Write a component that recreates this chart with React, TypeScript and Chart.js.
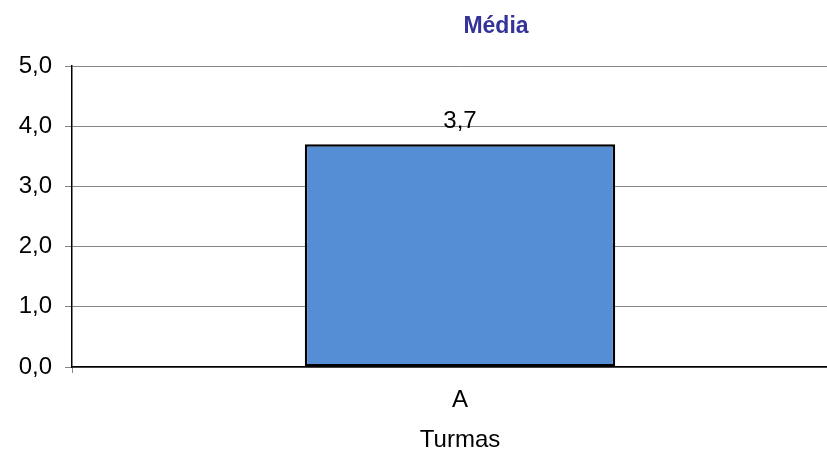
import React, { useEffect, useRef } from "react";
import { Chart, registerables } from "chart.js";

Chart.register(...registerables);

const chartTitle = "Média";
const xAxisTitle = "Turmas";
const categories = ["A"];
const values = [3.7];
const yMin = 0;
const yMax = 5;
const yStep = 1;

const FONT = "'Liberation Sans', Arial, sans-serif";
const fmt = (v: number) => v.toFixed(1).replace(".", ",");

const overlayPlugin = {
  id: "overlay",
  afterDatasetsDraw(chart: any) {
    const ctx = chart.ctx;
    const meta = chart.getDatasetMeta(0);
    ctx.save();
    ctx.font = `24px ${FONT}`;
    ctx.fillStyle = "#000000";
    ctx.textAlign = "center";
    ctx.textBaseline = "alphabetic";
    meta.data.forEach((bar: any, i: number) => {
      ctx.fillText(fmt(values[i]), bar.x, bar.y - 16);
    });
    ctx.restore();
  },
  afterDraw(chart: any) {
    const ctx = chart.ctx;
    const area = chart.chartArea;
    ctx.save();
    ctx.font = `bold 23px ${FONT}`;
    ctx.fillStyle = "#333399";
    ctx.textAlign = "center";
    ctx.textBaseline = "alphabetic";
    ctx.fillText(chartTitle, (area.left + area.right) / 2 + 36, 33);
    ctx.restore();
  },
};

export default function App() {
  const ref = useRef<HTMLCanvasElement | null>(null);

  useEffect(() => {
    if (!ref.current) return;
    const chart = new Chart(ref.current, {
      type: "bar",
      data: {
        labels: categories,
        datasets: [
          {
            data: values,
            backgroundColor: "#558ed5",
            borderColor: "#000000",
            borderWidth: 2.5,
            borderSkipped: false,
            barPercentage: 0.4,
            categoryPercentage: 1,
          },
        ],
      },
      plugins: [overlayPlugin],
      options: {
        responsive: false,
        animation: false,
        devicePixelRatio: 1,
        layout: { padding: { top: 66, left: 0, right: 0, bottom: 0 } },
        plugins: {
          legend: { display: false },
          title: { display: false },
          tooltip: { enabled: false },
        },
        scales: {
          x: {
            offset: true,
            afterFit: (scale: any) => {
              scale.height = 84;
            },
            grid: {
              display: true,
              drawOnChartArea: false,
              drawTicks: true,
              tickLength: 6,
              color: "#8a8a8a",
              offset: true,
            },
            border: { display: true, color: "#000000", width: 1.5 },
            ticks: {
              color: "#000000",
              padding: 13,
              font: { family: FONT, size: 24 },
            },
            title: {
              display: true,
              text: xAxisTitle,
              color: "#000000",
              padding: { top: 0, bottom: 0 },
              font: { family: FONT, size: 24, lineHeight: 0.9 },
            },
          },
          y: {
            min: yMin,
            max: yMax,
            afterFit: (scale: any) => {
              scale.width = 72;
            },
            grid: {
              color: "#868686",
              lineWidth: 1,
              tickLength: 7,
            },
            border: { display: true, color: "#000000", width: 1.5 },
            ticks: {
              stepSize: yStep,
              color: "#000000",
              padding: 13,
              font: { family: FONT, size: 24 },
              callback: (v: any) => fmt(Number(v)),
            },
          },
        },
      },
    });
    return () => chart.destroy();
  }, []);

  return (
    <div
      style={{
        position: "fixed",
        left: 0,
        top: 0,
        width: 827,
        height: 451,
        overflow: "hidden",
        background: "#ffffff",
      }}
    >
      <canvas ref={ref} width={848} height={451} style={{ display: "block" }} />
    </div>
  );
}
